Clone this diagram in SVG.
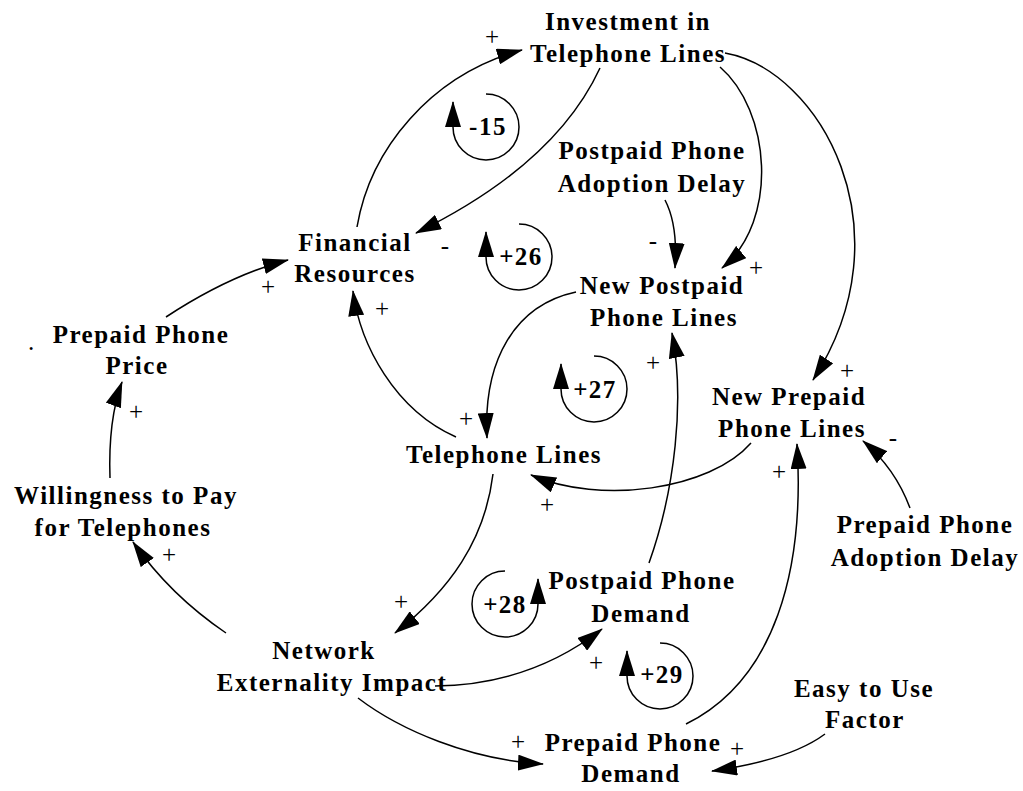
<svg xmlns="http://www.w3.org/2000/svg" width="1023" height="791" viewBox="0 0 1023 791">
<defs>
<marker id="arr" markerUnits="userSpaceOnUse" markerWidth="26" markerHeight="16" viewBox="0 0 26 16" refX="25" refY="8" orient="auto">
<path d="M0,0 L26,8 L0,16 z" fill="#000"/>
</marker>
<style>
.lbl{font-family:"Liberation Serif","Times New Roman",serif;font-weight:bold;font-size:25px;letter-spacing:1.5px;text-anchor:middle;fill:#000}
.sign{font-family:"Liberation Serif","Times New Roman",serif;font-size:25px;text-anchor:middle;fill:#000}
.link{fill:none;stroke:#000;stroke-width:1.5;marker-end:url(#arr)}
.loop{fill:none;stroke:#000;stroke-width:1.5;marker-end:url(#arr)}
</style>
</defs>
<rect width="1023" height="791" fill="#fff"/>

<g id="connectors">
<path class="link" d="M357,227 C370,150 430,75 522,50"/>
<path class="link" d="M600,68 Q555,165 416,233"/>
<path class="link" d="M720,67 C770,110 780,220 722,268"/>
<path class="link" d="M725,53 C820,70 910,230 813,380"/>
<path class="link" d="M665,200 Q678,225 675,268"/>
<path class="link" d="M166,317 Q230,275 288,260"/>
<path class="link" d="M456,437 C395,410 360,345 353,291"/>
<path class="link" d="M576,292 C515,305 483,360 487,438"/>
<path class="link" d="M751,443 C710,490 600,505 531,475"/>
<path class="link" d="M649,563 C675,490 685,400 672,333"/>
<path class="link" d="M686,724 C775,680 805,570 797,444"/>
<path class="link" d="M910,508 Q895,468 863,441"/>
<path class="link" d="M825,734 Q790,760 712,771"/>
<path class="link" d="M358,698 C400,730 470,760 543,764"/>
<path class="link" d="M435,686 Q530,685 602,629"/>
<path class="link" d="M493,474 C485,540 450,590 395,633"/>
<path class="link" d="M226,633 Q170,595 133,542"/>
<path class="link" d="M110,478 Q108,420 122,382"/>
</g>

<g id="signs">
<text class="sign" x="492" y="45">+</text>
<text class="sign" x="445" y="254">-</text>
<text class="sign" x="653" y="249">-</text>
<text class="sign" x="756" y="276">+</text>
<text class="sign" x="268" y="295">+</text>
<text class="sign" x="382" y="317">+</text>
<text class="sign" x="136" y="420">+</text>
<text class="sign" x="653" y="371">+</text>
<text class="sign" x="847" y="379">+</text>
<text class="sign" x="466" y="427">+</text>
<text class="sign" x="893" y="446">-</text>
<text class="sign" x="779" y="480">+</text>
<text class="sign" x="547" y="513">+</text>
<text class="sign" x="169" y="563">+</text>
<text class="sign" x="401" y="610">+</text>
<text class="sign" x="596" y="671">+</text>
<text class="sign" x="518" y="750">+</text>
<text class="sign" x="737" y="757">+</text>
</g>

<g id="loops">
<g id="loop-15"><path class="loop" d="M486,94 A33,33 0 1 1 453,127 L453,102"/><text class="lbl" x="488" y="135">-15</text></g>
<g id="loop26"><path class="loop" d="M519,224 A33,33 0 1 1 486,257 L486,232"/><text class="lbl" x="521" y="265">+26</text></g>
<g id="loop27"><path class="loop" d="M594,356 A33,33 0 1 1 561,389 L561,364"/><text class="lbl" x="595" y="398">+27</text></g>
<g id="loop28"><path class="loop" d="M505,571 A33,33 0 1 0 538,604 L538,579"/><text class="lbl" x="505" y="613">+28</text></g>
<g id="loop29"><path class="loop" d="M660,643 A33,33 0 1 1 627,676 L627,651"/><text class="lbl" x="662" y="683">+29</text></g>
</g>

<g id="investment"><text class="lbl" x="628" y="30">Investment in</text><text class="lbl" x="628" y="62">Telephone Lines</text></g>
<g id="postpaid-delay"><text class="lbl" x="652" y="159">Postpaid Phone</text><text class="lbl" x="652" y="192">Adoption Delay</text></g>
<g id="financial"><text class="lbl" x="355" y="251">Financial</text><text class="lbl" x="355" y="282">Resources</text></g>
<g id="new-postpaid"><text class="lbl" x="662" y="294">New Postpaid</text><text class="lbl" x="664" y="326">Phone Lines</text></g>
<g id="price"><text class="lbl" x="141" y="343">Prepaid Phone</text><text class="lbl" x="137" y="374">Price</text><text class="sign" x="31" y="350">.</text></g>
<g id="telephone-lines"><text class="lbl" x="504" y="463">Telephone Lines</text></g>
<g id="new-prepaid"><text class="lbl" x="789" y="405">New Prepaid</text><text class="lbl" x="792" y="437">Phone Lines</text></g>
<g id="willingness"><text class="lbl" x="126" y="504">Willingness to Pay</text><text class="lbl" x="123" y="536">for Telephones</text></g>
<g id="prepaid-delay"><text class="lbl" x="925" y="533">Prepaid Phone</text><text class="lbl" x="925" y="566">Adoption Delay</text></g>
<g id="postpaid-demand"><text class="lbl" x="642" y="589">Postpaid Phone</text><text class="lbl" x="641" y="622">Demand</text></g>
<g id="network"><text class="lbl" x="324" y="659">Network</text><text class="lbl" x="332" y="691">Externality Impact</text></g>
<g id="easy"><text class="lbl" x="864" y="697">Easy to Use</text><text class="lbl" x="865" y="728">Factor</text></g>
<g id="prepaid-demand"><text class="lbl" x="633" y="751">Prepaid Phone</text><text class="lbl" x="631" y="782">Demand</text></g>
</svg>
